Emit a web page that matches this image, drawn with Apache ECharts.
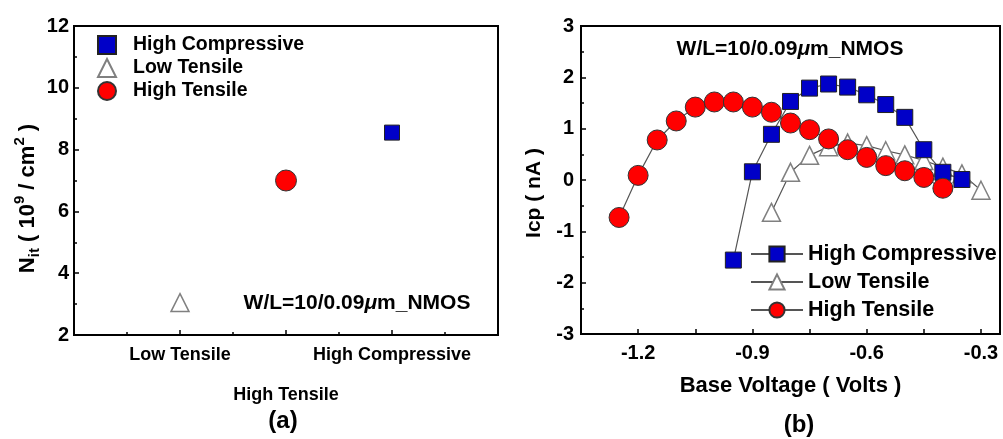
<!DOCTYPE html>
<html>
<head>
<meta charset="utf-8">
<title>Nit / Icp</title>
<script src="https://cdn.jsdelivr.net/npm/echarts/dist/echarts.min.js"></script>
<style>
  html, body { margin: 0; padding: 0; background: #fff; }
  #main { width: 1003px; height: 439px; }
</style>
</head>
<body>
<div id="main"></div>
<script>
// 图(a) 数据: 三种应力条件下的 Nit
var nitCategories = ['Low Tensile', 'High Tensile', 'High Compressive'];
var nitValues = [3.05, 7.0, 8.55];
var nitTicksY = [2, 4, 6, 8, 10, 12];

// 图(b) 数据: Icp 随 Base Voltage 变化
var hcVolt = [-0.95, -0.90, -0.85, -0.80, -0.75, -0.70, -0.65, -0.60, -0.55, -0.50, -0.45, -0.40, -0.35];
var hcIcp  = [-1.56, 0.16, 0.89, 1.53, 1.79, 1.87, 1.81, 1.66, 1.47, 1.22, 0.59, 0.15, 0.01];

var ltVolt = [-0.85, -0.80, -0.75, -0.70, -0.65, -0.60, -0.55, -0.50, -0.45, -0.40, -0.35, -0.30];
var ltIcp  = [-0.63, 0.15, 0.48, 0.65, 0.72, 0.67, 0.57, 0.49, 0.38, 0.25, 0.12, -0.20];

var htVolt = [-1.25, -1.20, -1.15, -1.10, -1.05, -1.00, -0.95, -0.90, -0.85, -0.80, -0.75, -0.70, -0.65, -0.60, -0.55, -0.50, -0.45, -0.40];
var htIcp  = [-0.73, 0.09, 0.78, 1.15, 1.42, 1.52, 1.52, 1.42, 1.32, 1.11, 0.98, 0.80, 0.59, 0.44, 0.28, 0.18, 0.05, -0.16];

var voltLabels = [-1.2, -0.9, -0.6, -0.3];

var FONT = 'Arial, "Liberation Sans", sans-serif';
var BLUE = '#0000c8';
var RED = '#ff0000';

function zip(xs, ys) {
    var out = [];
    for (var i = 0; i < xs.length; i++) {
        out.push([xs[i], ys[i]]);
    }
    return out;
}

var myChart = echarts.init(document.getElementById('main'));

// 坐标轴公共样式
function axisBase(extra) {
    var base = {
        axisLine: {show: true, onZero: false, lineStyle: {color: '#000', width: 2}},
        axisTick: {show: true, inside: true, length: 5, lineStyle: {color: '#000', width: 1.5}},
        minorTick: {show: true, splitNumber: 2, length: 3, lineStyle: {color: '#000', width: 1.5}},
        splitLine: {show: false},
        axisLabel: {color: '#000', fontFamily: FONT, fontWeight: 'bold', fontSize: 20}
    };
    for (var k in extra) {
        if (typeof extra[k] === 'object' && base[k] && !Array.isArray(extra[k])) {
            for (var j in extra[k]) base[k][j] = extra[k][j];
        } else {
            base[k] = extra[k];
        }
    }
    return base;
}

var symbolA = ['rect', 'triangle', 'circle'];
var sizeA = [15, 18, 21];
var styleA = [
    {color: BLUE, borderColor: '#222', borderWidth: 1, opacity: 1},
    {color: '#fff', borderColor: '#808080', borderWidth: 1.5, opacity: 1},
    {color: RED, borderColor: '#333', borderWidth: 1, opacity: 1}
];
// nitCategories 顺序: Low Tensile, High Tensile, High Compressive
var styleIdx = [1, 2, 0];

var seriesA = nitCategories.map(function (name, i) {
    var s = styleIdx[i];
    return {
        name: name,
        type: 'scatter',
        xAxisIndex: 0,
        yAxisIndex: 0,
        symbol: symbolA[s],
        symbolSize: sizeA[s],
        itemStyle: styleA[s],
        data: [[i + 1, nitValues[i]]]
    };
});

function lineSeries(key, volt, icp, symbol, size, itemStyle, z) {
    return {
        name: 'b:' + key,
        type: 'line',
        xAxisIndex: 1,
        yAxisIndex: 1,
        symbol: symbol,
        symbolSize: size,
        showAllSymbol: true,
        z: z,
        lineStyle: {color: '#555', width: 1.2},
        itemStyle: itemStyle,
        data: zip(volt, icp)
    };
}

var seriesB = [
    lineSeries('Low Tensile', ltVolt, ltIcp, 'triangle', 18, {color: '#fff', borderColor: '#808080', borderWidth: 1.5}, 2),
    lineSeries('High Compressive', hcVolt, hcIcp, 'rect', 16, {color: BLUE, borderColor: '#222', borderWidth: 1}, 3),
    lineSeries('High Tensile', htVolt, htIcp, 'circle', 20, {color: RED, borderColor: '#333', borderWidth: 1}, 4)
];

var muText = '{a|W/L=10/0.09}{b|\u03bc}{a|m_NMOS}';
var muRich = {
    a: {fontFamily: FONT, fontWeight: 'bold', fontSize: 21, fill: '#000'},
    b: {fontFamily: FONT, fontWeight: 'bold', fontStyle: 'italic', fontSize: 21, fill: '#000'}
};

option = {
    backgroundColor: '#fff',
    animation: false,
    grid: [
        {left: 74, top: 26, width: 424, height: 309, show: true, borderColor: '#000', borderWidth: 2},
        {left: 581, top: 26, width: 421, height: 308, show: true, borderColor: '#000', borderWidth: 2}
    ],
    xAxis: [
        axisBase({
            gridIndex: 0, type: 'value', min: 0, max: 4, interval: 1,
            axisLabel: {
                margin: 10, fontSize: 18, lineHeight: 20,
                formatter: function (v) {
                    var name = nitCategories[v - 1];
                    if (!name) return '';
                    // 中间的标签错开放在下一行
                    return v === 2 ? '\n\n' + name : name;
                }
            }
        }),
        axisBase({
            gridIndex: 1, type: 'value', min: -1.35, max: -0.25, interval: 0.15,
            minorTick: {show: false},
            axisLabel: {
                margin: 9,
                formatter: function (v) {
                    for (var i = 0; i < voltLabels.length; i++) {
                        if (Math.abs(voltLabels[i] - v) < 1e-6) return voltLabels[i].toFixed(1);
                    }
                    return '';
                }
            },
            name: 'Base Voltage ( Volts )',
            nameLocation: 'middle',
            nameGap: 41,
            nameTextStyle: {color: '#000', fontFamily: FONT, fontWeight: 'bold', fontSize: 22}
        })
    ],
    yAxis: [
        axisBase({
            gridIndex: 0, type: 'value', min: nitTicksY[0], max: nitTicksY[nitTicksY.length - 1], interval: 2,
            axisLabel: {margin: 5},
            name: 'N{sub|it} ( 10{sup|9} / cm{sup|2} )',
            nameLocation: 'middle',
            nameRotate: 90,
            nameGap: 27,
            nameTextStyle: {
                color: '#000', fontFamily: FONT, fontWeight: 'bold', fontSize: 22, lineHeight: 30,
                padding: [0, 36, 0, 0],
                rich: {
                    sub: {fontFamily: FONT, fontWeight: 'bold', fontSize: 15, lineHeight: 30, verticalAlign: 'bottom', color: '#000'},
                    sup: {fontFamily: FONT, fontWeight: 'bold', fontSize: 15, lineHeight: 30, verticalAlign: 'top', color: '#000'}
                }
            }
        }),
        axisBase({
            gridIndex: 1, type: 'value', min: -3, max: 3, interval: 1,
            axisLabel: {margin: 7},
            name: 'Icp ( nA )',
            nameLocation: 'middle',
            nameRotate: 90,
            nameGap: 36,
            nameTextStyle: {color: '#000', fontFamily: FONT, fontWeight: 'bold', fontSize: 21, padding: [0, 26, 0, 0]}
        })
    ],
    legend: [
        {
            orient: 'vertical',
            left: 97,
            top: 35,
            padding: 0,
            itemWidth: 18,
            itemHeight: 18,
            itemGap: 3,
            selectedMode: false,
            data: ['High Compressive', 'Low Tensile', 'High Tensile'],
            textStyle: {color: '#000', fontFamily: FONT, fontWeight: 'bold', fontSize: 19.5, padding: [0, 0, 0, 12]}
        },
        {
            orient: 'vertical',
            left: 750,
            top: 243,
            padding: 0,
            itemWidth: 52,
            itemHeight: 19,
            itemGap: 6,
            selectedMode: false,
            data: ['b:High Compressive', 'b:Low Tensile', 'b:High Tensile'],
            formatter: function (name) {
                return name.replace('b:', '');
            },
            textStyle: {color: '#000', fontFamily: FONT, fontWeight: 'bold', fontSize: 21.5}
        }
    ],
    graphic: [
        {type: 'text', x: 357, y: 303, style: {text: muText, rich: muRich, align: 'center', verticalAlign: 'middle'}},
        {type: 'text', x: 790, y: 49, style: {text: muText, rich: muRich, align: 'center', verticalAlign: 'middle'}},
        {type: 'text', x: 283, y: 421, style: {text: '(a)', fill: '#000', font: 'bold 24px ' + FONT, align: 'center', verticalAlign: 'middle'}},
        {type: 'text', x: 799, y: 425, style: {text: '(b)', fill: '#000', font: 'bold 24px ' + FONT, align: 'center', verticalAlign: 'middle'}}
    ],
    series: seriesA.concat(seriesB)
};

myChart.setOption(option);
</script>
</body>
</html>
